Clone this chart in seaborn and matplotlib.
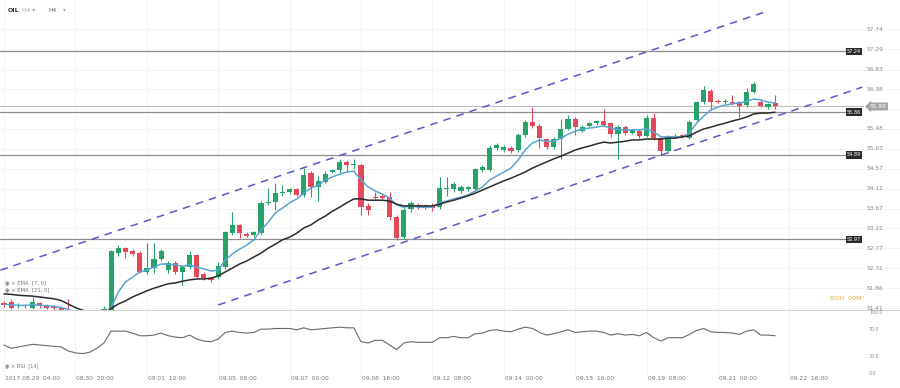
import numpy as np
import pandas as pd
import seaborn as sns
import matplotlib.pyplot as plt
from matplotlib.transforms import blended_transform_factory

# OHLC for each H4 candle
opens = [51.52, 51.55, 51.45, 51.47, 51.42, 51.52, 51.46, 51.43, 51.40, 51.35,
         51.28, 51.10, 51.05, 51.00, 51.20, 51.35, 52.66, 52.77, 52.70, 52.66,
         52.23, 52.32, 52.52, 52.27, 52.43, 52.23, 52.34, 52.61, 52.18, 52.09,
         52.11, 52.34, 53.11, 53.30, 53.09, 53.07, 53.11, 53.80, 53.82, 54.02,
         54.04, 54.11, 53.98, 54.48, 54.16, 54.27, 54.50, 54.55, 54.73, 54.66,
         54.66, 53.73, 53.93, 53.94, 53.93, 53.48, 53.02, 53.66, 53.75, 53.72,
         53.72, 53.70, 54.12, 54.11, 54.07, 54.12, 54.12, 54.55, 54.55, 55.05,
         55.00, 55.05, 55.00, 55.34, 55.64, 55.55, 55.25, 55.07, 55.25, 55.48,
         55.70, 55.43, 55.55, 55.61, 55.66, 55.61, 55.36, 55.52, 55.39, 55.43,
         55.32, 55.73, 55.27, 54.98, 55.30, 55.33, 55.27, 55.68, 56.09, 56.34,
         56.11, 56.09, 56.09, 56.09, 56.02, 56.32, 56.09, 55.98, 56.07]
highs = [51.58, 51.62, 51.52, 51.50, 51.65, 51.55, 51.50, 51.47, 51.46, 51.62,
         51.35, 51.20, 51.15, 51.20, 51.45, 52.72, 52.84, 52.80, 52.74, 52.70,
         52.89, 52.89, 52.75, 52.48, 52.47, 52.38, 52.70, 52.64, 52.22, 52.12,
         52.45, 53.16, 53.59, 53.33, 53.13, 53.17, 53.84, 54.14, 54.25, 54.20,
         54.14, 54.14, 54.59, 54.52, 54.40, 54.52, 54.57, 54.79, 54.77, 54.80,
         54.69, 53.80, 54.05, 54.00, 54.05, 53.52, 53.68, 53.85, 53.80, 53.78,
         53.80, 54.39, 54.39, 54.27, 54.20, 54.18, 54.60, 54.66, 55.11, 55.15,
         55.11, 55.09, 55.38, 55.68, 55.98, 55.59, 55.28, 55.29, 55.70, 55.79,
         55.74, 55.56, 55.64, 55.69, 55.93, 55.64, 55.56, 55.56, 55.48, 55.47,
         55.80, 55.84, 55.30, 55.34, 55.36, 55.37, 55.68, 56.12, 56.45, 56.38,
         56.16, 56.15, 56.25, 56.12, 56.41, 56.54, 56.14, 56.08, 56.25]
lows = [51.44, 51.38, 51.40, 51.42, 51.38, 51.42, 51.38, 51.36, 51.30, 51.20,
        51.05, 50.95, 50.90, 50.95, 51.10, 51.30, 52.60, 52.55, 52.60, 52.20,
        52.18, 52.20, 52.48, 52.20, 52.18, 51.93, 52.30, 52.08, 52.05, 52.00,
        52.08, 52.30, 53.08, 53.00, 53.02, 53.03, 53.08, 53.74, 53.64, 53.95,
        54.00, 53.95, 53.93, 53.93, 53.84, 54.24, 54.47, 54.48, 54.50, 54.58,
        53.52, 53.52, 53.88, 53.88, 53.40, 52.95, 52.98, 53.60, 53.66, 53.66,
        53.62, 53.66, 53.95, 54.05, 54.02, 54.08, 54.08, 54.50, 54.52, 55.00,
        54.96, 54.94, 54.96, 55.30, 55.50, 55.05, 55.02, 55.03, 54.80, 55.45,
        55.34, 55.40, 55.52, 55.58, 55.54, 55.30, 54.80, 55.34, 55.36, 55.28,
        55.29, 55.23, 54.89, 54.95, 55.27, 55.28, 55.24, 55.64, 56.05, 55.91,
        56.06, 56.05, 56.02, 55.75, 55.98, 56.29, 55.98, 55.94, 55.93]
closes = [51.48, 51.42, 51.47, 51.45, 51.55, 51.46, 51.42, 51.40, 51.35, 51.28,
          51.10, 51.05, 51.00, 51.15, 51.38, 52.70, 52.77, 52.68, 52.64, 52.23,
          52.32, 52.52, 52.70, 52.43, 52.23, 52.34, 52.61, 52.11, 52.09, 52.05,
          52.36, 53.14, 53.30, 53.11, 53.05, 53.14, 53.80, 53.82, 54.02, 54.05,
          54.11, 53.98, 54.43, 54.16, 54.30, 54.45, 54.55, 54.73, 54.66, 54.68,
          53.70, 53.64, 53.91, 53.92, 53.48, 53.00, 53.64, 53.80, 53.71, 53.70,
          53.69, 54.14, 54.14, 54.23, 54.16, 54.16, 54.57, 54.62, 55.05, 55.11,
          55.07, 54.98, 55.34, 55.64, 55.55, 55.27, 55.07, 55.25, 55.48, 55.70,
          55.52, 55.52, 55.61, 55.66, 55.57, 55.36, 55.52, 55.39, 55.45, 55.32,
          55.73, 55.27, 54.98, 55.30, 55.33, 55.31, 55.64, 56.09, 56.36, 56.09,
          56.09, 56.11, 56.04, 56.00, 56.32, 56.50, 56.00, 56.05, 55.99]

# indicator lines, read per candle
ema_fast = [51.50, 51.48, 51.47, 51.47, 51.48, 51.47, 51.46, 51.45, 51.42, 51.38,
            51.30, 51.25, 51.20, 51.20, 51.25, 51.41, 51.77, 52.00, 52.11, 52.23,
            52.27, 52.34, 52.41, 52.41, 52.39, 52.36, 52.39, 52.34, 52.30, 52.25,
            52.27, 52.50, 52.64, 52.75, 52.84, 52.96, 53.18, 53.36, 53.57, 53.68,
            53.80, 53.89, 54.02, 54.14, 54.20, 54.32, 54.39, 54.45, 54.50, 54.52,
            54.32, 54.16, 54.07, 54.00, 53.91, 53.75, 53.70, 53.73, 53.70, 53.70,
            53.70, 53.80, 53.84, 53.89, 53.93, 53.98, 54.07, 54.16, 54.32, 54.41,
            54.50, 54.59, 54.77, 55.00, 55.16, 55.23, 55.20, 55.20, 55.27, 55.36,
            55.43, 55.48, 55.50, 55.52, 55.55, 55.50, 55.46, 55.46, 55.46, 55.46,
            55.48, 55.41, 55.30, 55.30, 55.30, 55.30, 55.39, 55.61, 55.77, 55.91,
            55.98, 56.02, 56.05, 56.07, 56.11, 56.16, 56.14, 56.09, 56.07]
ema_slow = [51.73, 51.72, 51.70, 51.69, 51.68, 51.66, 51.64, 51.62, 51.58, 51.50,
            51.42, 51.36, 51.32, 51.30, 51.28, 51.40, 51.50, 51.57, 51.66, 51.73,
            51.80, 51.86, 51.91, 51.96, 51.98, 52.02, 52.05, 52.07, 52.07, 52.09,
            52.14, 52.23, 52.32, 52.41, 52.48, 52.57, 52.66, 52.77, 52.86, 52.96,
            53.02, 53.11, 53.23, 53.30, 53.41, 53.50, 53.61, 53.70, 53.80, 53.89,
            53.89, 53.86, 53.86, 53.86, 53.84, 53.77, 53.73, 53.73, 53.73, 53.73,
            53.73, 53.77, 53.82, 53.86, 53.91, 53.96, 54.02, 54.09, 54.16, 54.23,
            54.30, 54.36, 54.43, 54.50, 54.59, 54.66, 54.73, 54.80, 54.86, 54.93,
            55.00, 55.05, 55.09, 55.14, 55.18, 55.16, 55.18, 55.20, 55.23, 55.23,
            55.25, 55.25, 55.25, 55.27, 55.27, 55.30, 55.32, 55.41, 55.48, 55.52,
            55.57, 55.61, 55.66, 55.70, 55.75, 55.82, 55.84, 55.84, 55.86]
rsi = [47, 42, 44, 46, 48, 47, 46, 45, 44, 38, 35, 34, 36, 42, 50, 68, 68, 68, 65, 61,
       61, 62, 65, 61, 59, 58, 62, 56, 53, 52, 56, 66, 68, 66, 65, 66, 71, 71, 72, 72,
       72, 70, 73, 70, 71, 72, 73, 74, 73, 73, 52, 50, 54, 54, 47, 40, 50, 52, 51, 51,
       51, 58, 58, 60, 58, 58, 64, 65, 69, 70, 68, 67, 71, 74, 72, 66, 62, 64, 67, 70,
       66, 67, 68, 68, 66, 62, 64, 62, 63, 61, 66, 58, 53, 58, 58, 58, 63, 69, 72, 67,
       66, 66, 65, 63, 68, 70, 62, 62, 61]

time_labels = ['2017.08.29  04:00', '08.30  20:00', '09.01  12:00', '09.05  08:00',
               '09.07  00:00', '09.08  16:00', '09.12  08:00', '09.14  00:00',
               '09.15  16:00', '09.19  08:00', '09.21  00:00', '09.22  16:00']
price_ticks = [51.41, 51.86, 52.31, 52.77, 53.22, 53.67, 54.12, 54.57, 55.03,
               55.48, 55.93, 56.38, 56.83, 57.29, 57.74]
levels = [57.24, 55.86, 54.89, 52.97]
last_price = 55.99
rsi_ticks = [100, 70, 30, 0]

# trend channel drawn on the chart (candle index, price)
upper_x = [-0.5, 106.6]
upper_y = [52.27, 58.14]
lower_x = [30, 120.2]
lower_y = [51.48, 56.43]

df = pd.DataFrame({'open': opens, 'high': highs, 'low': lows, 'close': closes,
                   'ema_fast': ema_fast, 'ema_slow': ema_slow, 'rsi': rsi})
df['i'] = np.arange(len(df))

sns.set_style('white')
plt.rcParams['font.family'] = ['DejaVu Sans']

GREEN = '#27a269'
RED = '#e24a5c'

fig = plt.figure(figsize=(9, 3.88), dpi=100)
ax = fig.add_axes([0, 78 / 388, 1, 310 / 388])
ax_rsi = fig.add_axes([0, 12 / 388, 1, 66 / 388], sharex=ax)

xmin, xmax = -4 / 7.14, 896 / 7.14
ax.set_xlim(xmin, xmax)
ax.set_ylim(51.365, 58.41)
ax_rsi.set_ylim(0, 100)

for a in (ax, ax_rsi):
    a.set_xticks([])
    a.set_yticks([])
    for s in a.spines.values():
        s.set_visible(False)
    for k in range(len(time_labels)):
        a.axvline(k * 10, color='#f0f0f0', lw=0.6, zorder=0)
ax_rsi.spines['top'].set_visible(True)
ax_rsi.spines['top'].set_color('#d4d4d4')
ax_rsi.spines['top'].set_linewidth(0.8)

right = blended_transform_factory(ax.transAxes, ax.transData)
for p in price_ticks:
    ax.axhline(p, color='#f3f3f3', lw=0.6, zorder=0)
    # the current-price tag hides the label next to it
    if abs(p - last_price) < 0.1:
        continue
    ax.text(867 / 900, p, f'{p:.2f}', transform=right, fontsize=4.2,
            color='#8a8a8a', va='center', ha='left', zorder=2)

# candles
up = df['close'] >= df['open']
colors = np.where(up, GREEN, RED)
ax.vlines(df['i'], df['low'], df['high'], colors=colors, lw=0.8, zorder=3)
body = (df['close'] - df['open']).abs().clip(lower=0.025)
base = df[['open', 'close']].min(axis=1)
ax.bar(df['i'], body, bottom=base, width=0.72, color=colors, lw=0, zorder=4)

sns.lineplot(x=df['i'], y=df['ema_fast'], ax=ax, color='#5aa5d3', lw=1.1, zorder=5)
sns.lineplot(x=df['i'], y=df['ema_slow'], ax=ax, color='#2b2b2b', lw=1.1, zorder=5)
ax.set_xlabel('')
ax.set_ylabel('')

# channel
ax.plot(upper_x, upper_y, color='#5a58cc', lw=1.1, dashes=(5, 4), zorder=6)
ax.plot(lower_x, lower_y, color='#5a58cc', lw=1.1, dashes=(5, 4), zorder=6)

# horizontal levels
for lv in levels:
    ax.axhline(lv, xmin=0, xmax=845 / 900, color='#8d8d8d', lw=0.9, zorder=2)
    ax.text(854 / 900, lv, f'{lv:.2f}', transform=right, fontsize=3.6,
            color='white', ha='center', va='center', zorder=8,
            bbox=dict(boxstyle='square,pad=0.25', fc='#2a2a2a', ec='none'))
ax.axhline(last_price, xmin=0, xmax=863 / 900, color='#bdbdbd', lw=0.8, zorder=2)
ax.text(878 / 900, last_price, f'{last_price:.2f}', transform=right, fontsize=4.2,
        color='white', ha='center', va='center', zorder=9,
        bbox=dict(boxstyle='larrow,pad=0.25', fc='#a3a3a3', ec='none'))

# header and legend texts
ax.text(8 / 900, 1 - 10 / 310, 'OIL', transform=ax.transAxes, fontsize=4.5,
        color='#333333', va='center', weight='bold')
ax.text(22 / 900, 1 - 10 / 310, 'H4 \u25be', transform=ax.transAxes, fontsize=4.2,
        color='#a8a8a8', va='center')
ax.text(48 / 900, 1 - 10 / 310, 'H4', transform=ax.transAxes, fontsize=4.2,
        color='#666666', va='center')
ax.text(63 / 900, 1 - 10 / 310, '\u25be', transform=ax.transAxes, fontsize=4.2,
        color='#a8a8a8', va='center')
ax.text(5 / 900, 1 - 283 / 310, '\u25c9 \u00d7 EMA  [7, 0]', transform=ax.transAxes,
        fontsize=3.8, color='#777777', va='center')
ax.text(5 / 900, 1 - 290 / 310, '\u25c9 \u00d7 EMA  [21, 0]', transform=ax.transAxes,
        fontsize=3.8, color='#777777', va='center')
ax.text(862 / 900, 1 - 298 / 310, 'BOH  09M', transform=ax.transAxes, fontsize=4.6,
        color='#e9a93a', va='center', ha='right')

# RSI panel
sns.lineplot(x=df['i'], y=df['rsi'], ax=ax_rsi, color='#6a6a6a', lw=0.8)
ax_rsi.set_xlabel('')
ax_rsi.set_ylabel('')
ax_rsi.set_yticks([])
rright = blended_transform_factory(ax_rsi.transAxes, ax_rsi.transData)
for r in rsi_ticks:
    va = 'top' if r == 100 else ('bottom' if r == 0 else 'center')
    ax_rsi.text(869 / 900, r, f'{r:.1f}', transform=rright, fontsize=3.4,
                color='#8a8a8a', va=va, ha='left')
ax_rsi.text(5 / 900, 15, '\u25c9 \u00d7 RSI  [14]', transform=rright, fontsize=3.6,
            color='#777777', va='center')

# time axis labels, left aligned to the grid lines
bottom = blended_transform_factory(ax_rsi.transData, fig.transFigure)
for k, lab in enumerate(time_labels):
    ax_rsi.text(k * 10 + 0.15, 10 / 388, lab, transform=bottom, fontsize=4.3,
                color='#777777', ha='left', va='center', clip_on=False)

fig.savefig('out.png', dpi=100)
